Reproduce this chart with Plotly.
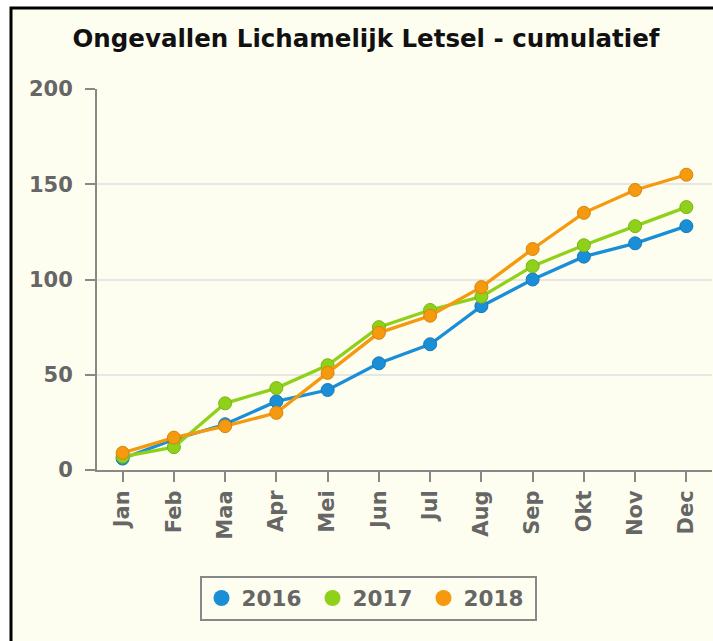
import plotly.graph_objects as go

months = ["Jan", "Feb", "Maa", "Apr", "Mei", "Jun", "Jul", "Aug", "Sep", "Okt", "Nov", "Dec"]
v2016 = [6, 16, 24, 36, 42, 56, 66, 86, 100, 112, 119, 128]
v2017 = [7, 12, 35, 43, 55, 75, 84, 91, 107, 118, 128, 138]
v2018 = [9, 17, 23, 30, 51, 72, 81, 96, 116, 135, 147, 155]
series = [("2016", v2016, "#1a8fd8", "#157ab8"),
          ("2017", v2017, "#8fd11a", "#79b316"),
          ("2018", v2018, "#f5990f", "#d8840a")]
y_ticks = [0, 50, 100, 150, 200]

W, H = 713, 641
L, R, T, B = 97, 1, 89, 171
pw, ph = W - L - R, H - T - B

def px(x):
    return (x - L) / pw

def py(y):
    return (H - B - y) / ph

fig = go.Figure()
for name, vals, col, edge in series:
    fig.add_trace(go.Scatter(
        x=months, y=vals, name=name, mode="lines+markers", showlegend=False,
        line=dict(color=col, width=3.3),
        marker=dict(color=col, size=13, line=dict(color=edge, width=1)),
    ))
for name, vals, col, edge in series:
    fig.add_trace(go.Scatter(
        x=[None], y=[None], name=name, mode="markers", showlegend=True,
        marker=dict(color=col, size=16),
    ))

fig.add_shape(type="rect", xref="paper", yref="paper",
              x0=px(11), x1=px(900), y0=py(900), y1=py(8),
              line=dict(color="black", width=3), fillcolor="#fefef0", layer="below")

tf = dict(family="DejaVu Sans", size=21, color="#666666", weight="bold")
lf = dict(family="DejaVu Sans", size=21.5, color="#666666", weight="bold")

fig.update_layout(
    width=W, height=H,
    margin=dict(l=L, r=R, t=T, b=B, autoexpand=False),
    paper_bgcolor="white", plot_bgcolor="#fefef0",
    title=dict(text="Ongevallen Lichamelijk Letsel - cumulatief",
               x=px(366), xanchor="center", y=1 - 38 / H, yanchor="middle", xref="paper",
               font=dict(family="DejaVu Sans", size=24.5, color="#111111", weight="bold")),
    font=dict(family="DejaVu Sans", color="#666666"),
    showlegend=True,
    legend=dict(orientation="h", x=px(368), xanchor="center", y=py(598), yanchor="middle",
                bgcolor="#fefef0", bordercolor="#888888", borderwidth=2,
                font=lf, entrywidth=66),
    xaxis=dict(type="category", range=[-0.5, 11.5], showgrid=False, automargin=False,
               showline=True, linecolor="#888888", linewidth=2,
               ticks="outside", ticklen=10, tickcolor="#888888", tickwidth=2,
               tickangle=-90, tickfont=tf),
    yaxis=dict(range=[0, 200], tickvals=y_ticks, showgrid=True, gridcolor="#e6e6e2", gridwidth=2,
               zeroline=False, showline=True, linecolor="#888888", linewidth=2, automargin=False,
               ticks="outside", ticklen=10, tickcolor="#888888", tickwidth=2,
               ticklabelstandoff=8, tickfont=tf),
)

fig.write_html("out.html", config={"displayModeBar": False},
               post_script="document.body.style.margin='0';document.body.style.overflow='hidden';")
